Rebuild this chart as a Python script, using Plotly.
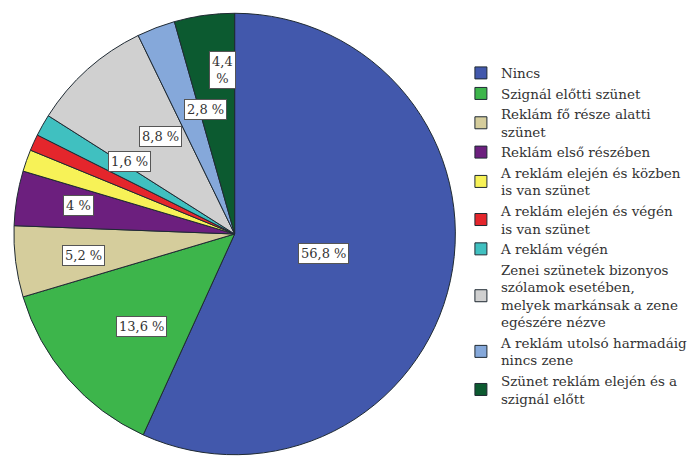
import math
import plotly.graph_objects as go

# categories and shares (%)
categories = [
    "Nincs",
    "Szignál előtti szünet",
    "Reklám fő része alatti<br>szünet",
    "Reklám első részében",
    "A reklám elején és közben<br>is van szünet",
    "A reklám elején és végén<br>is van szünet",
    "A reklám végén",
    "Zenei szünetek bizonyos<br>szólamok esetében,<br>melyek markánsak a zene<br>egészére nézve",
    "A reklám utolsó harmadáig<br>nincs zene",
    "Szünet reklám elején és a<br>szignál előtt",
]
values = [56.8, 13.6, 5.2, 4.0, 1.6, 1.2, 1.6, 8.8, 2.8, 4.4]
labels_shown = ["56,8 %", "13,6 %", "5,2 %", "4 %", "", "", "1,6 %", "8,8 %", "2,8 %", "4,4<br>%"]

colors = ["#4258AC", "#3DB54B", "#D5CD9C", "#6C1F7E", "#F7F257", "#E4262C",
          "#40C0C0", "#D0D0D0", "#85A8DA", "#0C5A30"]
# radial position of each label as a fraction of the radius
label_r = [0.41, 0.71, 0.79, 0.79, 0.7, 0.7, 0.66, 0.65, 0.65, 0.83]

SERIF = "DejaVu Serif"
W, H = 694, 461
cx, cy, R = 236, 234, 222

fig = go.Figure(go.Pie(
    labels=categories,
    values=values,
    sort=False,
    direction="clockwise",
    rotation=0,
    marker=dict(colors=colors, line=dict(color="#1f2a33", width=1)),
    textinfo="none",
    hoverinfo="label+percent",
    domain=dict(x=[(cx - R) / W, (cx + R) / W], y=[1 - (cy + R) / H, 1 - (cy - R) / H]),
))

# data labels placed at the middle angle of each slice
total = sum(values)
cum = 0
for v, txt, rf in zip(values, labels_shown, label_r):
    mid = (cum + v / 2) / total * 2 * math.pi
    cum += v
    if not txt:
        continue
    px = cx + rf * R * math.sin(mid)
    py = cy - rf * R * math.cos(mid)
    fig.add_annotation(
        x=px / W, y=1 - py / H, xref="paper", yref="paper",
        text=txt, showarrow=False,
        font=dict(family=SERIF, size=13, color="#333333"),
        bgcolor="white", bordercolor="#555555", borderwidth=1, borderpad=2,
    )

fig.update_layout(
    width=W, height=H,
    margin=dict(l=0, r=0, t=0, b=0),
    paper_bgcolor="white",
    font=dict(family=SERIF),
    legend=dict(
        x=0.668, y=0.875, xanchor="left", yanchor="top",
        font=dict(family=SERIF, size=13.5, color="#333333"),
        itemwidth=30, tracegroupgap=0,
    ),
)

fig.write_html("out.html", config={"displayModeBar": False},
               post_script="document.body.style.margin='0';")
